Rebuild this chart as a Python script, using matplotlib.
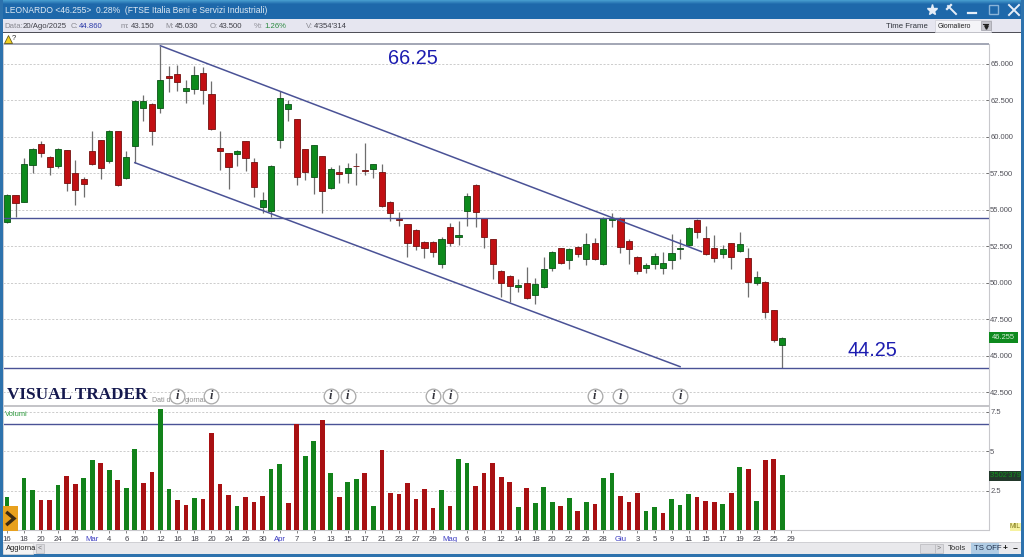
#!/usr/bin/env python

import numpy as np
import matplotlib
matplotlib.use("Agg")
import matplotlib.pyplot as plt
from matplotlib.patches import Rectangle

W, H = 1024, 557
FONT = "Liberation Sans"

opens = [
    54.17, 56.02, 55.56, 58.10, 59.49, 58.60, 58.01, 59.10, 57.53, 57.11,
    59.01, 59.77, 58.33, 60.41, 57.16, 59.35, 61.98, 62.28, 61.98, 64.18,
    64.31, 63.17, 63.29, 64.38, 62.94, 59.22, 58.87, 58.81, 59.70, 58.26,
    55.22, 54.94, 59.79, 61.94, 61.21, 59.17, 57.23, 58.69, 56.52, 57.57,
    57.50, 58.03, 57.75, 57.80, 57.62, 55.56, 54.39, 54.03, 53.62, 52.79,
    52.79, 51.31, 53.82, 53.16, 54.92, 56.73, 54.42, 52.98, 50.83, 50.49,
    49.69, 49.96, 49.16, 49.73, 51.03, 52.36, 51.54, 52.47, 51.65, 52.73,
    51.29, 54.28, 54.42, 52.89, 51.74, 50.99, 51.29, 50.99, 51.54, 52.31,
    52.59, 54.30, 53.09, 52.41, 52.00, 52.70, 52.15, 51.67, 49.96, 50.07,
    48.13, 45.75,
]
closes = [
    56.02, 55.49, 58.14, 59.19, 58.90, 57.96, 59.17, 56.86, 56.36, 56.79,
    58.17, 57.87, 60.41, 56.70, 58.62, 62.46, 62.46, 60.43, 63.90, 64.04,
    63.77, 63.33, 64.25, 63.19, 60.57, 59.06, 57.96, 59.01, 58.55, 56.59,
    55.67, 58.03, 62.65, 62.28, 57.23, 57.59, 59.42, 56.29, 57.78, 57.48,
    57.85, 57.98, 57.69, 58.12, 55.26, 54.81, 54.30, 52.70, 52.52, 52.38,
    52.11, 53.02, 52.75, 53.25, 55.97, 54.87, 53.16, 51.29, 49.96, 49.80,
    49.82, 48.95, 49.94, 50.92, 52.13, 51.33, 52.29, 51.97, 52.63, 51.65,
    54.42, 54.42, 52.43, 52.29, 50.83, 51.24, 51.83, 51.38, 52.02, 52.41,
    53.73, 53.46, 51.97, 51.70, 52.29, 51.79, 52.63, 50.07, 50.39, 47.99,
    46.07, 46.23,
]
highs = [
    56.05, 56.02, 58.53, 59.25, 59.72, 58.70, 59.25, 59.10, 58.42, 57.27,
    60.41, 59.80, 60.45, 60.41, 59.06, 62.50, 62.87, 62.30, 66.23, 64.86,
    64.93, 63.90, 64.86, 64.82, 63.81, 60.41, 58.90, 59.10, 59.70, 58.58,
    56.20, 58.10, 63.17, 62.53, 61.25, 59.20, 59.42, 58.70, 57.96, 58.07,
    58.19, 58.87, 59.61, 58.15, 58.14, 55.60, 54.85, 54.05, 53.70, 52.85,
    52.85, 53.15, 54.12, 54.23, 56.13, 56.75, 54.45, 53.00, 50.90, 50.50,
    50.23, 51.06, 50.30, 51.74, 52.20, 52.40, 52.38, 52.50, 53.39, 53.05,
    54.50, 54.76, 54.50, 53.00, 51.80, 51.38, 52.06, 52.13, 53.34, 52.98,
    53.80, 54.35, 53.91, 53.27, 52.59, 52.75, 53.46, 52.41, 50.83, 50.10,
    48.15, 46.25,
]
lows = [
    54.10, 54.49, 55.50, 57.50, 58.60, 57.39, 57.89, 56.31, 55.33, 55.86,
    58.07, 57.11, 58.20, 56.65, 57.10, 58.23, 61.11, 59.45, 61.66, 63.08,
    63.17, 62.35, 62.94, 62.26, 60.50, 57.73, 56.41, 58.01, 57.69, 55.86,
    54.81, 54.49, 59.22, 61.11, 56.70, 57.02, 56.09, 54.81, 56.41, 56.86,
    56.82, 56.68, 57.39, 57.21, 55.20, 54.26, 53.89, 51.79, 52.25, 51.67,
    51.79, 51.03, 52.52, 52.61, 53.91, 53.85, 52.41, 50.23, 49.05, 48.66,
    49.39, 48.89, 48.52, 49.62, 50.80, 51.30, 50.94, 51.79, 51.22, 51.56,
    51.20, 53.80, 52.06, 51.29, 50.60, 50.65, 50.92, 50.58, 50.97, 51.60,
    52.50, 53.09, 51.90, 51.45, 51.67, 50.97, 52.10, 49.05, 49.82, 47.56,
    45.96, 44.18,
]
volumes = [
    2.08, 1.40, 3.33, 2.56, 1.91, 1.95, 2.88, 3.43, 2.94, 3.33,
    4.47, 4.26, 3.83, 3.18, 2.69, 5.17, 2.99, 3.69, 7.67, 2.61,
    1.91, 1.61, 2.03, 1.99, 6.14, 2.94, 2.25, 1.55, 2.12, 1.82,
    2.20, 3.86, 4.22, 1.74, 6.74, 4.72, 5.64, 6.97, 3.60, 2.08,
    3.03, 3.26, 3.60, 1.57, 5.08, 2.35, 2.31, 2.99, 1.99, 2.61,
    1.42, 2.52, 1.57, 4.51, 4.28, 2.78, 3.64, 4.26, 3.39, 3.07,
    1.48, 2.65, 1.74, 2.73, 1.82, 1.53, 2.03, 1.23, 1.82, 1.65,
    3.28, 3.60, 2.16, 1.82, 2.35, 1.23, 1.48, 1.10, 1.99, 1.61,
    2.31, 2.12, 1.86, 1.82, 1.65, 2.39, 3.98, 3.86, 1.86, 4.47,
    4.51, 3.47,
]
# G / R per volume bar, the colours do not always follow the candle
volume_colors = (
    "GRGGRRGRRG" "GRGRGGRRGG" "RRGRRRRGRR" "RGGRRGGRGR"
    "GGRGRRRRRR" "RGRGGRRRRR" "GRGGGRGRGR" "GGRRRGGRGG"
    "GRRRGRGRGR" "RG"
)
tick_labels = [
    "16", "18", "20", "24", "26", "Mar", "4", "6", "10", "12", "16", "18",
    "20", "24", "26", "30", "Apr", "7", "9", "13", "15", "17", "21", "23",
    "27", "29", "Mag", "6", "8", "12", "14", "18", "20", "22", "26", "28",
    "Giu", "3", "5", "9", "11", "15", "17", "19", "23", "25", "29",
]
price_ticks = [42.5, 45, 47.5, 50, 52.5, 55, 57.5, 60, 62.5, 65]
volume_ticks = [2.5, 5, 7.5]
event_bars = [20, 24, 38, 40, 50, 52, 69, 72, 79]
support_levels = [54.42, 44.13]
volume_level = 6.71
upper_channel = ([18, 81.5], [66.25, 52.13])
lower_channel = ([15, 79], [58.23, 44.24])

GREEN = "#0d8a1c"
RED = "#c20f12"
LINE_BLUE = "#4a5296"


def box(x0, y0, x1, y1):
    # pixel box (from top left) to a figure rectangle
    return [x0 / W, 1 - y1 / H, (x1 - x0) / W, (y1 - y0) / H]


def draw_window(ui):
    ramp = np.linspace(0, 1, 19).reshape(-1, 1, 1)
    top = np.array([0.27, 0.60, 0.80]).reshape(1, 1, 3)
    low = np.array([0.12, 0.41, 0.67]).reshape(1, 1, 3)
    bar = np.clip(low + (top - low) * np.clip(1 - ramp * 5, 0, 1), 0, 1)
    ui.imshow(bar, extent=(0, W, 19, 0), aspect="auto", zorder=1)
    ui.set_xlim(0, W)
    ui.set_ylim(H, 0)

    rects = [
        (0, 19, W, 32, "#e6e6f0"),
        (0, 32, W, 33, "#505058"),
        (0, 0, 3, H, "#2d72ad"),
        (1021, 0, W, H, "#2d72ad"),
        (0, 554, W, H, "#2d72ad"),
        (3, 543, 1021, 554, "#e9e9ec"),
        (3, 542, 1021, 543, "#d0d0d4"),
    ]
    for x0, y0, x1, y1, color in rects:
        ui.add_patch(Rectangle((x0, y0), x1 - x0, y1 - y0, fc=color, ec="none", zorder=2))

    def label(x, y, s, color="#30343c", size=5.8, **kw):
        kw.setdefault("va", "center")
        return ui.text(x, y, s, color=color, fontsize=size, family=FONT, zorder=6, **kw)

    label(5, 10.5, "LEONARDO <46.255>  0.28%  (FTSE Italia Beni e Servizi Industriali)",
          color="#dfeaf4", size=6.15)

    header = [
        (4, "Data:", "#8a8a92"), (23, "20/Ago/2025", "#404048"),
        (71, "C:", "#8a8a92"), (79, "44.860", "#2c3aa8"),
        (121, "m:", "#8a8a92"), (131, "43.150", "#404048"),
        (165, "M:", "#8a8a92"), (175, "45.030", "#404048"),
        (210, "O:", "#8a8a92"), (219, "43.500", "#404048"),
        (254, "%:", "#8a8a92"), (264, "1.26%", "#2c8a40"),
        (306, "V:", "#8a8a92"), (314, "4'354'314", "#404048"),
    ]
    for x, s, color in header:
        label(x, 26, s, color=color, size=5.6)
    label(886, 26, "Time Frame", size=5.6)

    ui.add_patch(Rectangle((935, 20), 56, 12, fc="#f4f4f8", ec="#d0d0d8", lw=0.5, zorder=3))
    label(938, 26, "Giornaliero", size=4.9, color="#202020")
    ui.add_patch(Rectangle((981, 21), 10, 9, fc="#c4c4cc", ec="#a0a0a8", lw=0.5, zorder=4))
    ui.plot([983, 988], [24, 24], color="#202020", lw=0.8, zorder=5)
    ui.plot([985.5], [27], marker="v", ms=2.5, color="#202020", zorder=5)

    # title bar buttons
    ui.plot([932], [10], marker="*", ms=8, mfc="#e6eef8", mec="#e6eef8", zorder=5)
    ui.plot([948, 956], [6, 14], color="#e6eef8", lw=1.4, zorder=5)
    ui.plot([947, 951], [9, 5], color="#e6eef8", lw=1.6, zorder=5)
    ui.plot([968, 976], [13, 13], color="#e6eef8", lw=1.6, zorder=5)
    ui.add_patch(Rectangle((989, 5), 9, 9, fc="none", ec="#8ab4d8", lw=1.0, zorder=5))
    ui.plot([1009, 1019], [5, 15], color="#e6eef8", lw=1.4, zorder=5)
    ui.plot([1009, 1019], [15, 5], color="#e6eef8", lw=1.4, zorder=5)

    # alert bell
    ui.plot([7.5], [38.5], marker="^", ms=6, mfc="#f0d020", mec="#504810", mew=0.5, zorder=5)
    label(12, 38.5, "?", size=5.5, color="#303030")

    # axes frame colours
    ui.add_patch(Rectangle((3, 43), 986, 2, fc="#a4a8b6", ec="none", zorder=4))
    ui.add_patch(Rectangle((3, 405), 986, 2, fc="#c4c4c8", ec="none", zorder=4))
    ui.add_patch(Rectangle((3, 43), 1, 488, fc="#c8ccd4", ec="none", zorder=4))

    label(7, 395, "VISUAL TRADER", color="#15194e", size=12.3, weight="bold").set_family("Liberation Serif")

    # last value tags
    ui.add_patch(Rectangle((989, 332), 29, 10.5, fc="#0e8a1e", ec="none", zorder=4))
    label(1003.5, 337.3, "46.255", color="#d8ecd8", size=5.4, ha="center")
    ui.add_patch(Rectangle((989, 471), 32, 9.5, fc="#22382a", ec="none", zorder=4))
    tag = label(990, 475.8, "3'502'379", color="#12901e", size=5.4)
    tag.set_clip_path(Rectangle((989, 471), 32, 9.5, transform=ui.transData))
    ui.add_patch(Rectangle((1010, 523), 11, 8, fc="#f6f2a0", ec="none", zorder=4))
    label(1015.5, 527, "MIL", color="#807a20", size=4.8, ha="center")

    # orange scroll tab
    ui.add_patch(Rectangle((3, 506), 15, 25, fc="#e8a11e", ec="none", zorder=4))
    ui.plot([7.5, 14, 7.5], [513, 518.5, 524], color="#3c2c14", lw=2.4,
            solid_joinstyle="miter", zorder=5)

    # bottom strip
    ui.add_patch(Rectangle((3, 543), 30, 11, fc="#f4f4f4", ec="#d8d8d8", lw=0.5, zorder=4))
    label(6, 548.5, "Aggiorna", size=5.4, color="#202020")
    ui.add_patch(Rectangle((36, 544), 8, 9, fc="#dcdce0", ec="#b8b8bc", lw=0.5, zorder=4))
    label(40, 548.5, "<", size=5, color="#707070", ha="center")
    ui.add_patch(Rectangle((920, 544), 15, 9, fc="#dcdce0", ec="#b8b8bc", lw=0.5, zorder=4))
    ui.add_patch(Rectangle((935, 544), 8, 9, fc="#dcdce0", ec="#b8b8bc", lw=0.5, zorder=4))
    label(939, 548.5, ">", size=5, color="#707070", ha="center")
    label(948, 548.5, "Tools", size=5.6, color="#303030")
    ui.add_patch(Rectangle((971, 543), 28, 11, fc="#b0cce4", ec="none", zorder=4))
    label(974, 548.5, "TS OFF", size=5.6, color="#20304c")
    label(1005, 548.5, "+", size=6, color="#101010", ha="center", weight="bold")
    label(1015.5, 548.5, "\u2212", size=6, color="#101010", ha="center", weight="bold")


def main() -> int:
    plt.rcParams["font.family"] = FONT
    fig = plt.figure(figsize=(W / 100, H / 100), dpi=100, facecolor="white")

    x = np.arange(len(opens))
    xlim = (-0.47, 115.2)

    # price panel
    ax = fig.add_axes(box(3, 44, 988.5, 405))
    ax.set_xlim(*xlim)
    ax.set_ylim(41.61, 66.37)
    ax.yaxis.tick_right()
    ax.set_yticks(price_ticks)
    ax.set_yticklabels([f"{t:.3f}" for t in price_ticks])
    ax.tick_params(axis="y", direction="in", length=2.5, width=0.6, pad=1.2, labelsize=5.5,
                   labelcolor="#505058", color="#606060")
    ax.set_xticks([])
    ax.grid(axis="y", color="#c4c4c4", ls=(0, (2.5, 2)), lw=0.6)
    ax.set_axisbelow(True)
    for name, spine in ax.spines.items():
        spine.set_visible(name == "right")
    ax.spines["right"].set_color("#c8c8cc")

    o = np.array(opens)
    c = np.array(closes)
    up = c >= o
    ax.vlines(x, lows, highs, color="#6e6e6e", lw=0.9, zorder=2)
    ax.bar(x[up], (c - o)[up], bottom=o[up], width=0.72, color=GREEN,
           edgecolor="#0a5216", lw=0.6, zorder=3)
    ax.bar(x[~up], (o - c)[~up], bottom=c[~up], width=0.72, color=RED,
           edgecolor="#74100f", lw=0.6, zorder=3)

    for level in support_levels:
        ax.axhline(level, color=LINE_BLUE, lw=1.0, zorder=4)
    ax.plot(*upper_channel, color=LINE_BLUE, lw=1.1, zorder=4)
    ax.plot(*lower_channel, color=LINE_BLUE, lw=1.1, zorder=4)

    ax.text(44.7, 65.35, "66.25", color="#1c1cb0", fontsize=14.3, ha="left", va="center")
    ax.text(98.7, 45.35, "44.25", color="#1c1cb0", fontsize=14.3, ha="left", va="center")

    # the circle covers the gap in this caption
    ax.text(17.0, 41.9, "Dati di", color="#909090", fontsize=5.0, va="center", zorder=4)
    ax.text(20.83, 41.9, "giornata", color="#909090", fontsize=5.0, va="center", zorder=4)

    ax.plot(event_bars, [42.25] * len(event_bars), ls="none", marker="o", ms=10.6,
            mfc="white", mec="#a8a8a8", mew=0.9, zorder=5)
    for bar in event_bars:
        ax.text(bar, 42.25, "i", color="#34343c", fontsize=9, family="Liberation Serif",
                style="italic", weight="bold", ha="center", va="center", zorder=6)

    # volume panel
    vax = fig.add_axes(box(3, 406, 988.5, 530.3))
    vax.set_xlim(*xlim)
    vax.set_ylim(0, 7.87)
    vax.yaxis.tick_right()
    vax.set_yticks(volume_ticks)
    vax.set_yticklabels(["2.5", "5", "7.5"])
    vax.tick_params(axis="y", direction="in", length=2.5, width=0.6, pad=1.2, labelsize=5.5,
                    labelcolor="#505058", color="#606060")
    vax.grid(axis="y", color="#c4c4c4", ls=(0, (2.5, 2)), lw=0.6)
    vax.set_axisbelow(True)
    for name, spine in vax.spines.items():
        spine.set_visible(name in ("right", "bottom"))
    vax.spines["right"].set_color("#c8c8cc")
    vax.spines["bottom"].set_color("#c8c8cc")

    bar_colors = ["#12821a" if k == "G" else "#a81012" for k in volume_colors]
    vax.bar(x, volumes, width=0.55, color=bar_colors, zorder=3)
    vax.axhline(volume_level, color=LINE_BLUE, lw=1.0, zorder=2)
    vax.text(-0.2, 7.35, "Volumi", color="#2c9a3c", fontsize=5.4, va="center", ha="left")

    tick_pos = np.arange(len(tick_labels)) * 2
    vax.set_xticks(tick_pos)
    vax.set_xticklabels(tick_labels)
    vax.tick_params(axis="x", length=2.5, width=0.6, pad=1.5, labelsize=5.6,
                    labelcolor="#404048", color="#707070")
    for lab in vax.get_xticklabels():
        if lab.get_text() in ("Mar", "Apr", "Mag", "Giu"):
            lab.set_color("#3a3ac0")

    # window chrome on top, in pixels
    ui = fig.add_axes([0, 0, 1, 1], zorder=5)
    ui.patch.set_visible(False)
    ui.axis("off")
    draw_window(ui)

    fig.savefig("out.png", dpi=100)
    return 0


if __name__ == "__main__":
    main()
